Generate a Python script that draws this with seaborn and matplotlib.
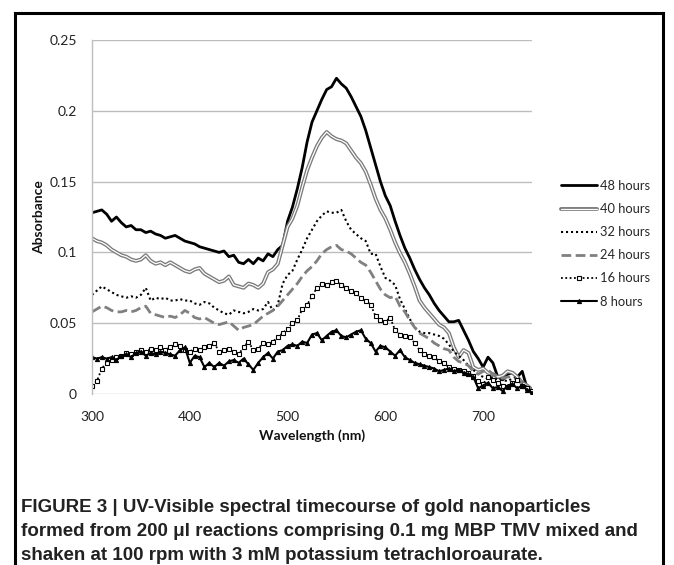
import numpy as np
import pandas as pd
import matplotlib
matplotlib.use("Agg")
import matplotlib.pyplot as plt
import matplotlib.patheffects as pe
from matplotlib.lines import Line2D
import seaborn as sns

wavelength = list(range(300, 751, 5))

h48 = [0.128, 0.129, 0.130, 0.127, 0.122, 0.125, 0.121, 0.118, 0.119, 0.116,
       0.116, 0.114, 0.115, 0.113, 0.112, 0.110, 0.111, 0.112, 0.110, 0.108,
       0.107, 0.106, 0.104, 0.103, 0.102, 0.101, 0.100, 0.101, 0.097, 0.098,
       0.093, 0.092, 0.095, 0.092, 0.096, 0.094, 0.099, 0.097, 0.102, 0.105,
       0.122, 0.132, 0.145, 0.160, 0.178, 0.192, 0.200, 0.208, 0.215, 0.217,
       0.223, 0.219, 0.216, 0.210, 0.203, 0.196, 0.186, 0.174, 0.162, 0.150,
       0.140, 0.133, 0.122, 0.112, 0.103, 0.096, 0.088, 0.081, 0.075, 0.070,
       0.064, 0.059, 0.055, 0.051, 0.051, 0.052, 0.045, 0.038, 0.030, 0.025,
       0.019, 0.026, 0.022, 0.012, 0.010, 0.014, 0.015, 0.012, 0.016, 0.004,
       0.002]

h40 = [0.110, 0.108, 0.107, 0.105, 0.102, 0.100, 0.098, 0.097, 0.095, 0.094,
       0.095, 0.098, 0.094, 0.092, 0.093, 0.091, 0.093, 0.091, 0.089, 0.087,
       0.086, 0.088, 0.089, 0.085, 0.083, 0.081, 0.079, 0.080, 0.083, 0.077,
       0.076, 0.075, 0.078, 0.077, 0.075, 0.078, 0.086, 0.088, 0.092, 0.105,
       0.118, 0.124, 0.133, 0.146, 0.158, 0.167, 0.175, 0.181, 0.185, 0.182,
       0.180, 0.179, 0.177, 0.172, 0.167, 0.163, 0.157, 0.148, 0.138, 0.130,
       0.124, 0.116, 0.107, 0.0995, 0.093, 0.085, 0.076, 0.066, 0.061, 0.057,
       0.053, 0.049, 0.047, 0.043, 0.033, 0.026, 0.031, 0.029, 0.019, 0.017,
       0.018, 0.015, 0.014, 0.012, 0.013, 0.016, 0.015, 0.012, 0.008, 0.006,
       0.003]

h32 = [0.070, 0.073, 0.076, 0.074, 0.072, 0.070, 0.069, 0.068, 0.069, 0.068,
       0.070, 0.075, 0.066, 0.068, 0.067, 0.068, 0.066, 0.066, 0.067, 0.066,
       0.066, 0.064, 0.063, 0.065, 0.064, 0.061, 0.059, 0.057, 0.056, 0.059,
       0.058, 0.057, 0.058, 0.060, 0.059, 0.060, 0.065, 0.059, 0.063, 0.078,
       0.084, 0.087, 0.095, 0.102, 0.110, 0.116, 0.122, 0.126, 0.129, 0.128,
       0.128, 0.130, 0.122, 0.116, 0.113, 0.110, 0.108, 0.099, 0.099, 0.090,
       0.082, 0.080, 0.077, 0.067, 0.060, 0.053, 0.047, 0.044, 0.043, 0.043,
       0.042, 0.041, 0.039, 0.035, 0.030, 0.027, 0.024, 0.020, 0.017, 0.014,
       0.012, 0.011, 0.012, 0.010, 0.010, 0.009, 0.011, 0.012, 0.008, 0.005,
       0.003]

h24 = [0.058, 0.060, 0.062, 0.061, 0.059, 0.058, 0.058, 0.059, 0.058, 0.059,
       0.061, 0.062, 0.057, 0.056, 0.055, 0.054, 0.055, 0.054, 0.056, 0.059,
       0.057, 0.054, 0.053, 0.054, 0.052, 0.050, 0.049, 0.050, 0.051, 0.048,
       0.045, 0.047, 0.048, 0.049, 0.052, 0.055, 0.057, 0.059, 0.062, 0.066,
       0.070, 0.074, 0.078, 0.083, 0.087, 0.090, 0.094, 0.099, 0.102, 0.104,
       0.105, 0.102, 0.101, 0.099, 0.096, 0.093, 0.091, 0.086, 0.080, 0.074,
       0.070, 0.068, 0.069, 0.062, 0.058, 0.052, 0.047, 0.043, 0.041, 0.039,
       0.036, 0.034, 0.032, 0.031, 0.026, 0.023, 0.022, 0.020, 0.016, 0.014,
       0.016, 0.017, 0.014, 0.012, 0.011, 0.012, 0.012, 0.010, 0.008, 0.005,
       0.003]

h16 = [0.006, 0.009, 0.018, 0.022, 0.024, 0.026, 0.027, 0.029, 0.028, 0.030,
       0.031, 0.030, 0.032, 0.031, 0.033, 0.031, 0.033, 0.035, 0.034, 0.031,
       0.030, 0.032, 0.031, 0.033, 0.034, 0.036, 0.030, 0.031, 0.032, 0.030,
       0.028, 0.033, 0.037, 0.031, 0.032, 0.036, 0.035, 0.037, 0.040, 0.043,
       0.046, 0.050, 0.052, 0.060, 0.063, 0.069, 0.075, 0.078, 0.077, 0.079,
       0.080, 0.077, 0.075, 0.073, 0.071, 0.068, 0.066, 0.063, 0.055, 0.052,
       0.051, 0.054, 0.045, 0.042, 0.041, 0.040, 0.036, 0.031, 0.028, 0.027,
       0.026, 0.023, 0.022, 0.019, 0.018, 0.017, 0.016, 0.015, 0.013, 0.009,
       0.007, 0.012, 0.010, 0.008, 0.006, 0.005, 0.008, 0.010, 0.006, 0.004,
       0.002]

h8 = [0.026, 0.025, 0.026, 0.025, 0.026, 0.024, 0.027, 0.028, 0.026, 0.029,
      0.030, 0.027, 0.029, 0.028, 0.030, 0.029, 0.028, 0.027, 0.031, 0.033,
      0.022, 0.027, 0.026, 0.019, 0.022, 0.019, 0.022, 0.020, 0.023, 0.024,
      0.022, 0.025, 0.021, 0.017, 0.022, 0.026, 0.029, 0.025, 0.030, 0.031,
      0.034, 0.035, 0.034, 0.037, 0.036, 0.042, 0.043, 0.038, 0.041, 0.044,
      0.045, 0.041, 0.040, 0.042, 0.044, 0.045, 0.039, 0.036, 0.030, 0.034,
      0.033, 0.030, 0.027, 0.031, 0.026, 0.024, 0.022, 0.021, 0.020, 0.019,
      0.018, 0.016, 0.017, 0.018, 0.016, 0.017, 0.015, 0.014, 0.012, 0.004,
      0.006, 0.008, 0.004, 0.005, 0.002, 0.006, 0.007, 0.004, 0.006, 0.003,
      0.001]

series_labels = ["48 hours", "40 hours", "32 hours", "24 hours", "16 hours", "8 hours"]
x_ticks = [300, 400, 500, 600, 700]
y_ticks = [0, 0.05, 0.1, 0.15, 0.2, 0.25]
y_tick_labels = ["0", "0.05", "0.1", "0.15", "0.2", "0.25"]
x_label = "Wavelength (nm)"
y_label = "Absorbance"
caption = ("FIGURE 3 | UV-Visible spectral timecourse of gold nanoparticles\n"
           "formed from 200 \u03bcl reactions comprising 0.1 mg MBP TMV mixed and\n"
           "shaken at 100 rpm with 3 mM potassium tetrachloroaurate.")

sns.set_theme(style="white")
plt.rcParams['font.family'] = ['Lato', 'DejaVu Sans']

W, H = 674, 565
fig = plt.figure(figsize=(W / 100, H / 100), dpi=100)
fig.patch.set_facecolor("white")
ax = fig.add_axes([92 / W, 1 - 394 / H, (532 - 92) / W, (394 - 40) / H])

grid_c = "#bdbdbd"
styles = [
    dict(color="black", linewidth=2.0),
    dict(color="white", linewidth=0.9,
         path_effects=[pe.Stroke(linewidth=2.8, foreground="#7a7a7a"), pe.Normal()]),
    dict(color="black", linewidth=1.5, linestyle=(0, (1, 1.4))),
    dict(color="#808080", linewidth=2.0, linestyle=(0, (3.5, 1.6))),
    dict(color="black", linewidth=1.3, linestyle=(0, (1, 1.4)), marker="s",
         markersize=3.3, markerfacecolor="white", markeredgecolor="black",
         markeredgewidth=0.8),
    dict(color="black", linewidth=1.5, marker="^", markersize=3.0,
         markerfacecolor="black", markeredgecolor="black"),
]
all_series = [h48, h40, h32, h24, h16, h8]
for vals, lab, st in zip(all_series, series_labels, styles):
    df = pd.DataFrame({"wl": wavelength, "abs": vals})
    sns.lineplot(data=df, x="wl", y="abs", ax=ax, label=lab, estimator=None,
                 sort=False, **st)

ax.set_xlim(300, 750)
ax.set_ylim(0, 0.25)
ax.set_xticks(x_ticks)
ax.set_yticks(y_ticks)
ax.set_yticklabels(y_tick_labels)
ax.tick_params(axis="both", length=0, labelsize=10, colors="#222222")
ax.tick_params(axis="x", pad=12)
ax.tick_params(axis="y", pad=11)
ax.grid(axis="y", color=grid_c, linewidth=1.0)
ax.grid(axis="x", visible=False)
ax.set_axisbelow(True)
for s in ["top", "right", "bottom"]:
    ax.spines[s].set_visible(False)
ax.spines["left"].set_color(grid_c)
ax.spines["left"].set_linewidth(1.0)

ax.set_xlabel(x_label, fontsize=10, fontweight="bold", labelpad=5, color="#111111")
ax.set_ylabel(y_label, fontsize=10, fontweight="bold", labelpad=3, color="#111111")

leg = ax.legend(loc="upper left", bbox_to_anchor=(561 / W, 1 - 180 / H),
                bbox_transform=fig.transFigure, frameon=False, fontsize=9.3,
                handlelength=2.8, handletextpad=0.2, labelspacing=0.86,
                numpoints=1, borderaxespad=0, borderpad=0)

# figure frame
lw = 2.2
fig.add_artist(Line2D([15 / W, 15 / W], [0, 1 - 13 / H], transform=fig.transFigure,
                      color="black", linewidth=lw, solid_capstyle="projecting"))
fig.add_artist(Line2D([663 / W, 663 / W], [0, 1 - 13 / H], transform=fig.transFigure,
                      color="black", linewidth=lw, solid_capstyle="projecting"))
fig.add_artist(Line2D([15 / W, 663 / W], [1 - 13 / H, 1 - 13 / H], transform=fig.transFigure,
                      color="black", linewidth=lw, solid_capstyle="projecting"))

fig.text(21 / W, 1 - 499 / H, caption, ha="left", va="top",
         family=['Liberation Sans Narrow', 'Liberation Sans', 'DejaVu Sans'],
         fontweight="bold", fontsize=13.5, color="#222222", linespacing=1.52)

fig.savefig("out.png", dpi=100, facecolor="white")
